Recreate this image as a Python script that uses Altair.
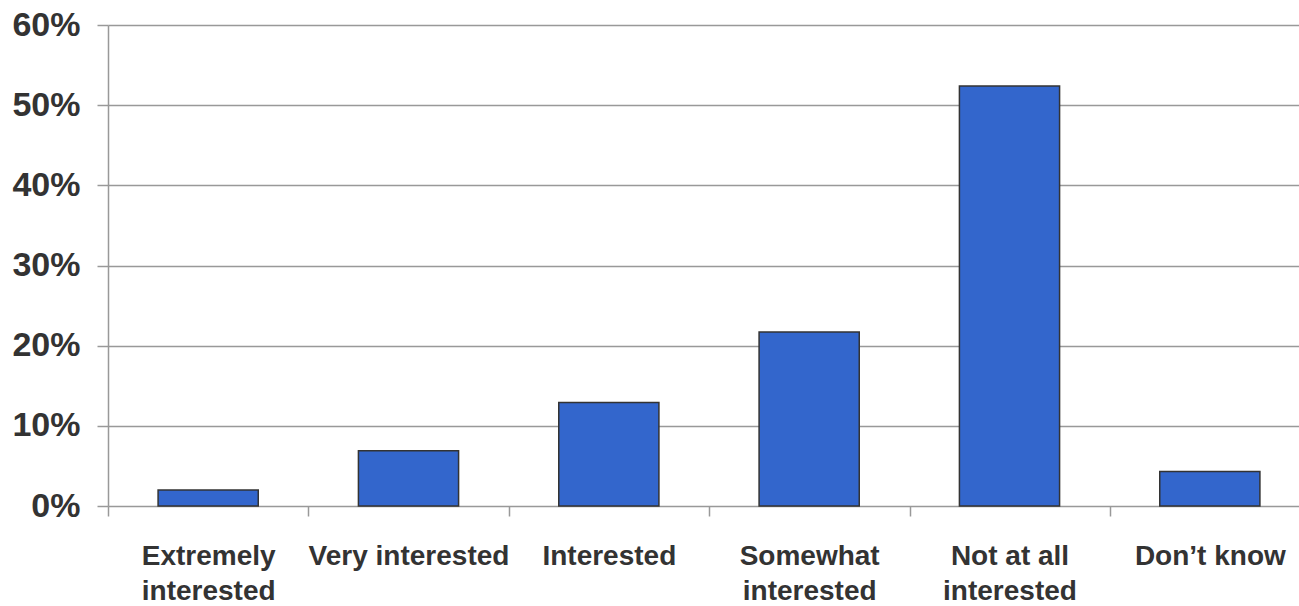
import altair as alt
import pandas as pd

# Survey answers and the share of respondents giving each one (%)
categories = [
    "Extremely\ninterested",
    "Very interested",
    "Interested",
    "Somewhat\ninterested",
    "Not at all\ninterested",
    "Don\u2019t know",
]
shares = [2.0, 6.9, 12.9, 21.7, 52.4, 4.3]
y_ticks = [0, 10, 20, 30, 40, 50, 60]

df = pd.DataFrame({"answer": categories, "share": shares})

bars = alt.Chart(df).mark_bar(
    color="#3366CC",
    stroke="#333333",
    strokeWidth=1.5,
).encode(
    x=alt.X(
        "answer:N",
        sort=categories,
        title=None,
        scale=alt.Scale(range=[0, 1202], paddingInner=0.5, paddingOuter=0.25),
        axis=alt.Axis(
            labelAngle=0,
            labelExpr="split(datum.label, '\\n')",
            labelFont="Liberation Sans",
            labelFontWeight="bold",
            labelFontSize=28,
            labelLineHeight=35,
            labelColor="#333333",
            labelPadding=48,
            labelBaseline="alphabetic",
            labelLimit=0,
            labelOverlap=False,
            # ticks sit on the category boundaries, labels stay centred
            tickOffset=-100,
            labelOffset=100,
            tickSize=10,
            tickColor="#999999",
            tickWidth=1.5,
            domain=False,
            grid=False,
        ),
    ),
    y=alt.Y(
        "share:Q",
        title=None,
        scale=alt.Scale(domain=[0, 60], nice=False),
        axis=alt.Axis(
            values=y_ticks,
            labelExpr="datum.value + '%'",
            labelFont="Liberation Sans",
            labelFontWeight="bold",
            labelFontSize=34,
            labelColor="#333333",
            labelPadding=17,
            tickSize=11,
            tickColor="#999999",
            tickWidth=1.5,
            domainColor="#999999",
            domainWidth=1.5,
            grid=True,
            gridColor="#999999",
            gridWidth=1.5,
        ),
    ),
)

chart = bars.properties(
    width=1191,
    height=481,
    padding={"left": 108, "top": 25, "right": 0, "bottom": 100},
    autosize=alt.AutoSizeParams(type="none"),
    background="white",
).configure_view(stroke=None)

chart.save("out.html", embed_options={"renderer": "svg", "actions": False})
